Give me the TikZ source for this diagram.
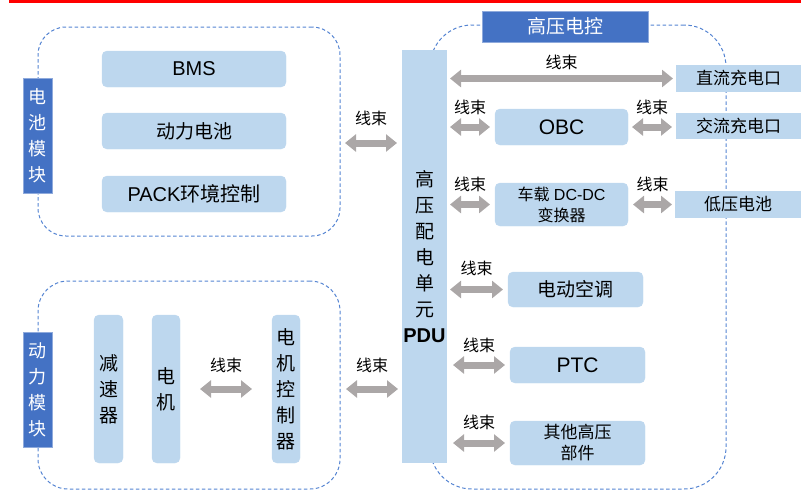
\documentclass[tikz,border=0pt]{standalone}
\usepackage{fontspec}
\setmainfont{Liberation Sans}
\newfontfamily\cjk{Noto Sans CJK SC}
\usetikzlibrary{arrows.meta}
\definecolor{lblue}{HTML}{BDD7EE}
\definecolor{dblue}{HTML}{4472C4}
\definecolor{dashcol}{HTML}{5584D2}
\definecolor{harncol}{HTML}{ABA7A7}
\definecolor{topred}{HTML}{FF0000}
\begin{document}
\begin{tikzpicture}[x=1pt,y=-1pt,
 box/.style={fill=lblue, draw=lblue, rounded corners=5pt, inner sep=0pt, outer sep=0pt, align=center},
 sq/.style={fill=lblue, draw=none, inner sep=0pt, outer sep=0pt, align=center},
 tag/.style={fill=dblue, draw=dblue!60!white, line width=0.6pt, inner sep=0pt, outer sep=0pt, text=white, align=center},
 group/.style={draw=dashcol, dash pattern=on 3.5pt off 2.5pt, line width=1pt, rounded corners=#1, inner sep=0pt, outer sep=0pt},
 harn/.style={draw=harncol, line width=7pt, {Triangle[length=11pt,width=17pt]}-{Triangle[length=11pt,width=17pt]}},
 lbl/.style={font=\fontsize{16}{16}\selectfont\cjk, inner sep=0pt},
 zh/.style={font=\fontsize{#1}{26}\selectfont\cjk},
 en/.style={font=\fontsize{#1}{26}\selectfont},
]
\useasboundingbox (0,0) rectangle (801,491);
\fill[topred] (9,0) rectangle (801,2.5);

% dashed groups
\node[group=28pt, minimum width=302pt, minimum height=209pt] (batbox) at (189,131.5) {};
\node[group=30pt, minimum width=302pt, minimum height=208pt] (pwrbox) at (189,385) {};
\node[group=42pt, minimum width=296pt, minimum height=464pt] (hvbox) at (578,257) {};

% group tags
\node[tag, zh=18, minimum width=29pt, minimum height=115pt] (batlab) at (37.5,135.5) {电\\池\\模\\块};
\node[tag, zh=18, minimum width=29pt, minimum height=115pt] (pwrlab) at (37.5,389.5) {动\\力\\模\\块};
\node[tag, zh=19, minimum width=166pt, minimum height=31pt] (hvtitle) at (565,26.5) {高压电控};

% battery module
\node[box, en=20, minimum width=184pt, minimum height=36pt] (bms) at (194,69) {BMS};
\node[box, zh=19, minimum width=184pt, minimum height=36pt] (cell) at (194,131) {动力电池};
\node[box, en=20, minimum width=184pt, minimum height=36pt] (pack) at (194,194) {PACK{\cjk 环境控制}};

% power module
\node[box, zh=19, minimum width=29pt, minimum height=148pt] (red) at (108.5,389) {减\\速\\器};
\node[box, zh=19, minimum width=28pt, minimum height=148pt] (motor) at (166,389) {电\\机};
\node[box, zh=19, minimum width=28pt, minimum height=148pt] (ctrl) at (286,389) {电\\机\\控\\制\\器};

% PDU
\node[sq, zh=19, minimum width=45pt, minimum height=413pt] (pdu) at (424.5,256.5) {高\\压\\配\\电\\单\\元\\{\fontspec{Liberation Sans}\fontsize{20}{26}\selectfont\bfseries PDU}};

% HV control parts
\node[sq, zh=17, minimum width=125pt, minimum height=27pt] (dc) at (738.5,78.5) {直流充电口};
\node[sq, zh=17, minimum width=125pt, minimum height=26pt] (ac) at (738.5,126) {交流充电口};
\node[sq, zh=17, minimum width=126pt, minimum height=27pt] (lv) at (738,204.5) {低压电池};
\node[box, en=21, minimum width=133pt, minimum height=36pt] (obc) at (561.5,127) {OBC};
\node[box, font=\fontsize{16}{21}\selectfont, minimum width=133pt, minimum height=43pt] (dcdc) at (561.5,204.5) {{\cjk 车载} DC-DC\\{\cjk 变换器}};
\node[box, zh=19, minimum width=135pt, minimum height=35pt] (aircon) at (575.5,289.5) {电动空调};
\node[box, en=21, minimum width=135pt, minimum height=36pt] (ptc) at (577.5,365) {PTC};
\node[box, font=\fontsize{17}{21}\selectfont\cjk, minimum width=135pt, minimum height=44pt] (other) at (577.5,443) {其他高压\\部件};

% harnesses
\coordinate (hb) at (0,143);
\draw[harn] ([xshift=5pt]batbox.east |- hb) -- ([xshift=-5pt]pdu.west |- hb) node[lbl, midway, yshift=25pt] {线束};
\draw[harn] ([xshift=20pt]motor.east) -- ([xshift=-20pt]ctrl.west) node[lbl, midway, yshift=24pt] {线束};
\draw[harn] ([xshift=6pt]pwrbox.east |- ctrl) -- ([xshift=-4pt]pdu.west |- ctrl) node[lbl, midway, yshift=24pt] {线束};
\draw[harn] ([xshift=3pt]pdu.east |- dc) -- ([xshift=-3pt]dc.west) node[lbl, midway, yshift=16pt] {线束};
\draw[harn] ([xshift=3pt]pdu.east |- obc) -- ([xshift=-5pt]obc.west) node[lbl, midway, yshift=20pt] {线束};
\draw[harn] ([xshift=4pt]obc.east) -- ([xshift=-4pt]ac.west |- obc) node[lbl, midway, yshift=20pt] {线束};
\draw[harn] ([xshift=3pt]pdu.east |- dcdc) -- ([xshift=-5pt]dcdc.west) node[lbl, midway, yshift=20pt] {线束};
\draw[harn] ([xshift=5pt]dcdc.east) -- ([xshift=-3pt]lv.west |- dcdc) node[lbl, midway, yshift=20pt] {线束};
\draw[harn] ([xshift=3pt]pdu.east |- aircon) -- ([xshift=-5pt]aircon.west) node[lbl, midway, yshift=21pt] {线束};
\draw[harn] ([xshift=6pt]pdu.east |- ptc) -- ([xshift=-5pt]ptc.west) node[lbl, midway, yshift=20pt] {线束};
\draw[harn] ([xshift=6pt]pdu.east |- other) -- ([xshift=-5pt]other.west) node[lbl, midway, yshift=21pt] {线束};
\end{tikzpicture}
\end{document}
